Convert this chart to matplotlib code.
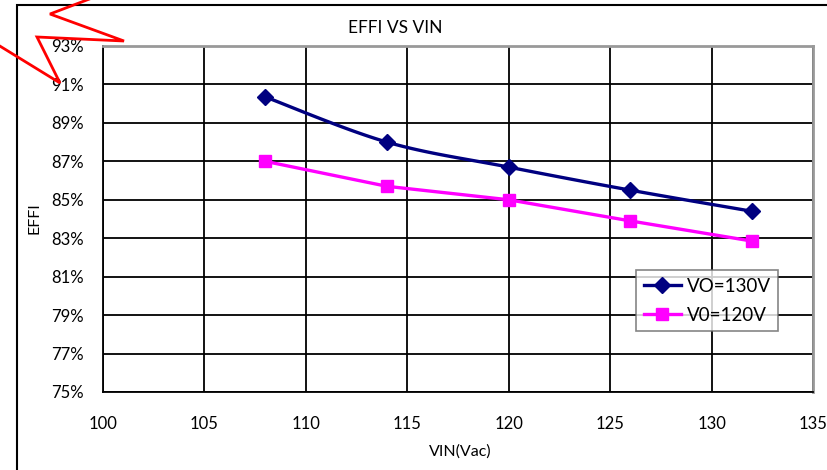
import numpy as np
import matplotlib
matplotlib.use("Agg")
import matplotlib.pyplot as plt
from matplotlib.lines import Line2D
from matplotlib.patches import Rectangle
from matplotlib.ticker import FuncFormatter

plt.rcParams['font.family'] = ['Lato', 'DejaVu Sans']

vin = [108, 114, 120, 126, 132]
vo130 = [90.35, 88.0, 86.7, 85.5, 84.4]
vo120 = [87.0, 85.7, 85.0, 83.9, 82.85]
series_labels = ['VO=130V', 'V0=120V']
xticks = [100, 105, 110, 115, 120, 125, 130, 135]
yticks = [75, 77, 79, 81, 83, 85, 87, 89, 91, 93]

W, H = 827, 470
fig = plt.figure(figsize=(W / 100, H / 100), dpi=100)
ax = fig.add_axes([103 / W, 1 - 392 / H, (813 - 103) / W, (392 - 46) / H])


def smooth(x, y, n=30):
    # Catmull-Rom style bezier smoothing (like spreadsheet "smoothed line")
    x = np.asarray(x, float); y = np.asarray(y, float)
    px = np.concatenate([[x[0]], x, [x[-1]]])
    py = np.concatenate([[y[0]], y, [y[-1]]])
    xs, ys = [], []
    for i in range(1, len(px) - 2):
        p0 = np.array([px[i - 1], py[i - 1]]); p1 = np.array([px[i], py[i]])
        p2 = np.array([px[i + 1], py[i + 1]]); p3 = np.array([px[i + 2], py[i + 2]])
        c1 = p1 + (p2 - p0) / 6
        c2 = p2 - (p3 - p1) / 6
        t = np.linspace(0, 1, n)[:, None]
        b = (1 - t) ** 3 * p1 + 3 * (1 - t) ** 2 * t * c1 + 3 * (1 - t) * t ** 2 * c2 + t ** 3 * p2
        xs.extend(b[:, 0]); ys.extend(b[:, 1])
    return xs, ys


sx, sy = smooth(vin, vo130)
ax.plot(sx, sy, color='#000080', lw=2.4, zorder=3)
ax.plot(vin, vo130, ls='none', marker='D', ms=8, color='#000080', zorder=4)
ax.plot(vin, vo120, color='#FF00FF', lw=2.4, marker='s', ms=9, zorder=3)

ax.set_xlim(100, 135)
ax.set_ylim(75, 93)
ax.set_xticks(xticks)
ax.set_yticks(yticks)
ax.yaxis.set_major_formatter(FuncFormatter(lambda v, p: f"{v:.0f}%"))
ax.grid(True, color='black', lw=1.3)
ax.set_axisbelow(True)
ax.tick_params(length=0, labelsize=12)
ax.tick_params(axis='y', pad=14)
ax.tick_params(axis='x', pad=17)
for s in ['left', 'bottom']:
    ax.spines[s].set_color('black'); ax.spines[s].set_linewidth(1.3)
for s in ['top', 'right']:
    ax.spines[s].set_color('#999999'); ax.spines[s].set_linewidth(2)

fig.text(395 / W, 1 - 28 / H, 'EFFI VS VIN', ha='center', va='center', fontsize=12.5)
fig.text(35 / W, 1 - 218 / H, 'EFFI', ha='center', va='center', rotation=90, fontsize=11.5)
fig.text(460 / W, 1 - 452 / H, 'VIN(Vac)', ha='center', va='center', fontsize=11.5)

handles = [Line2D([], [], color='#000080', lw=2.4, marker='D', ms=8),
           Line2D([], [], color='#FF00FF', lw=2.4, marker='s', ms=9)]
leg = ax.legend(handles, series_labels, loc='upper left',
                bbox_to_anchor=((636 - 103) / (813 - 103), 1 - (270 - 46) / (392 - 46)),
                fontsize=13.5, frameon=True, fancybox=False, edgecolor='#666666',
                handlelength=2.0, handletextpad=0.3, borderpad=0.4, labelspacing=0.65,
                borderaxespad=0)
leg.get_frame().set_linewidth(1.2)

# chart-area border
fig.add_artist(Rectangle((17 / W, -0.1), 1.2, 1 - 5 / H + 0.1, transform=fig.transFigure,
                         fill=False, edgecolor='black', lw=1.5))

# red callout shape
px = [100, 50, 124, 37, 60, -10]
py = [-5, 14, 41, 37, 83, 40]
fig.add_artist(Line2D([v / W for v in px], [1 - v / H for v in py], transform=fig.transFigure,
                      color='red', lw=2, solid_joinstyle='miter', zorder=10))

fig.savefig('out.png', dpi=100)
